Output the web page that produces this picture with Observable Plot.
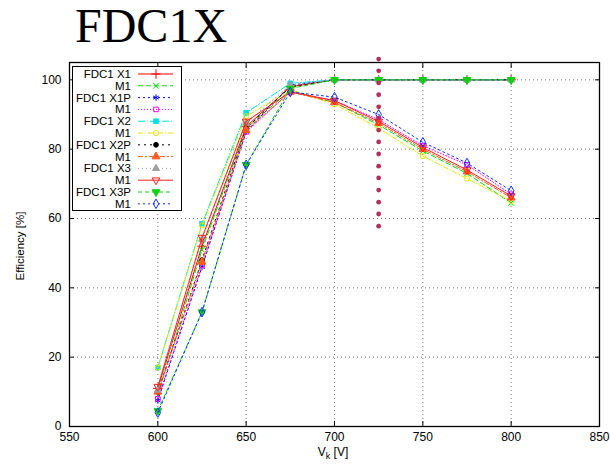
<!DOCTYPE html>
<html><head><meta charset="utf-8">
<script src="https://cdn.jsdelivr.net/npm/d3@7"></script>
<script src="https://cdn.jsdelivr.net/npm/@observablehq/plot@0.6"></script>
<style>
body{margin:0;background:#fff;}
#wrap{position:relative;width:610px;height:465px;overflow:hidden;font-family:"Liberation Sans",Arial,sans-serif;color:#000;}
#title{position:absolute;left:75px;top:2px;font:48px/48px "Liberation Serif","Times New Roman",serif;white-space:nowrap;}
#chart{position:absolute;left:0;top:55px;}
#ylab{position:absolute;left:20px;top:246px;transform:translate(-50%,-50%) rotate(-90deg);font-size:11.5px;white-space:nowrap;}
#xlab{position:absolute;left:333px;top:452px;transform:translate(-50%,-50%);font-size:12px;white-space:nowrap;}
#xlab sub{font-size:9px;vertical-align:-3px;line-height:0;}
#legend{position:absolute;left:72px;top:66px;}
</style>
</head><body>
<div id="wrap">
  <div id="title">FDC1X</div>
  <div id="chart"></div>
  <div id="ylab">Efficiency [%]</div>
  <div id="xlab">V<sub>k</sub> [V]</div>
  <div id="legend"></div>
</div>
<script>
// ---- data ----
const volts = [600, 625, 650, 675, 700, 725, 750, 775, 800];
const fdcX1  = [11, 52, 86.5, 98, 100, 100, 100, 100, 100];
const m1X1   = [9, 51, 86, 97, 93.5, 87, 79.5, 73, 64.5];
const fdcX1P = [7.5, 46, 85, 98.5, 100, 100, 100, 100, 100];
const m1X1P  = [8, 46.5, 85, 96.5, 94, 88.5, 81, 75.5, 67];
const fdcX2  = [17, 58.5, 90.5, 99, 100, 100, 100, 100, 100];
const m1X2   = [17, 58, 89.5, 97, 93, 86, 78, 71.5, 65];
const fdcX2P = [10, 48, 86, 98, 100, 100, 100, 100, 100];
const m1X2P  = [10, 47.5, 85.5, 96.5, 93.5, 87.5, 80, 73.5, 66];
const fdcX3  = [10.5, 54, 87.5, 98.5, 100, 100, 100, 100, 100];
const m1X3   = [11.5, 54.5, 88, 96.5, 94, 88, 80.5, 74, 66.5];
const fdcX3P = [4.5, 33, 75.5, 97.5, 100, 100, 100, 100, 100];
const m1X3P  = [4, 33, 75.5, 96.5, 95, 90, 82, 76, 68];
const seriesNames = ["FDC1 X1","M1","FDC1 X1P","M1","FDC1 X2","M1","FDC1 X2P","M1","FDC1 X3","M1","FDC1 X3P","M1"];
const seriesValues = [fdcX1, m1X1, fdcX1P, m1X1P, fdcX2, m1X2, fdcX2P, m1X2P, fdcX3, m1X3, fdcX3P, m1X3P];
const markerVolt = 725;
const markerLevels = [57.8, 61.3, 64.7, 68.2, 71.7, 75.1, 78.6, 82.1, 85.5, 89, 92.2, 95.7, 99.1, 102.6, 106];
const xTicks = [550, 600, 650, 700, 750, 800, 850];
const yTicks = [0, 20, 40, 60, 80, 100];
const xGrid = [600, 650, 700, 750, 800];
const yGrid = [20, 40, 60, 80, 100];

// ---- styles ----
const colors = ["#ff0000","#00e000","#0000ff","#ff00ff","#00e0e0","#e8e800","#000000","#ff5a1e","#a0a0a0","#ff2020","#10d010","#1030ff"];
const dashes = [null,"5,3","2,3","1,2","7,2,1,2","5,2,1,2","2,4","5,2,2,2","1,3",null,"4,3","2,3"];
const symbols = ["plus","times","asterisk","square","square","circle","circle","triangle","triangle","triangle","triangle","diamond"];
const filled  = [false,false,false,false,true,false,true,true,true,false,true,false];
const rotates = [0,0,0,0,0,0,0,0,0,180,180,0];
const radius  = [3.2,2.7,3,2.6,2.6,2.6,2.4,2.9,2.6,2.9,2.9,2.9];

const rows = seriesValues.flatMap((vals, i) => volts.map((v, j) => ({series: i, v, eff: vals[j]})));
const markerRows = markerLevels.map(y => ({v: markerVolt, eff: y}));

const marks = [
  Plot.gridX(xGrid, {stroke: "#000", strokeOpacity: 0.55, strokeDasharray: "1,3"}),
  Plot.gridY(yGrid, {stroke: "#000", strokeOpacity: 0.55, strokeDasharray: "1,3"}),
  Plot.axisX(xTicks, {tickSize: 0, tickPadding: 6, fontSize: 12, label: null}),
  Plot.axisY(yTicks, {tickSize: 0, tickPadding: 8, fontSize: 12, label: null}),
  Plot.axisX(xTicks, {anchor: "bottom", tickSize: -5, tickFormat: () => "", label: null}),
  Plot.axisX(xTicks, {anchor: "top", tickSize: -5, tickFormat: () => "", label: null}),
  Plot.axisY(yTicks, {anchor: "left", tickSize: -5, tickFormat: () => "", label: null}),
  Plot.axisY(yTicks, {anchor: "right", tickSize: -5, tickFormat: () => "", label: null})
];
seriesValues.forEach((_, i) => {
  const d = rows.filter(r => r.series === i);
  marks.push(Plot.line(d, {x: "v", y: "eff", stroke: colors[i], strokeWidth: 1, strokeDasharray: dashes[i]}));
  marks.push(Plot.dot(d, {x: "v", y: "eff", symbol: symbols[i], r: radius[i], rotate: rotates[i],
    fill: filled[i] ? colors[i] : "none", stroke: colors[i], strokeWidth: 1}));
});
marks.push(Plot.dot(markerRows, {x: "v", y: "eff", r: 2.4, fill: "#b03060", stroke: "none"}));
marks.push(Plot.frame({stroke: "#000", strokeWidth: 1.3}));

const chart = Plot.plot({
  width: 610, height: 410,
  marginLeft: 69, marginRight: 11, marginTop: 7, marginBottom: 39,
  x: {domain: [550, 850], axis: null},
  y: {domain: [0, 105], axis: null},
  style: {fontFamily: "'Liberation Sans', Arial, sans-serif", fontSize: "12px", color: "#000", background: "transparent"},
  marks
});
document.getElementById("chart").appendChild(chart);

// ---- legend (inside plot, top-left) ----
const symMap = {plus: d3.symbolPlus, times: d3.symbolTimes, asterisk: d3.symbolAsterisk, square: d3.symbolSquare,
  circle: d3.symbolCircle, triangle: d3.symbolTriangle, diamond: d3.symbolDiamond};
const lw = 110, lh = 145, rowH = 11.8, row0 = 8;
const svg = d3.select("#legend").append("svg").attr("width", lw).attr("height", lh)
  .style("font-family", "'Liberation Sans', Arial, sans-serif").style("font-size", "11.5px");
svg.append("rect").attr("x", 0.5).attr("y", 0.5).attr("width", lw - 1).attr("height", lh - 1)
  .attr("fill", "#fff").attr("stroke", "#000").attr("stroke-width", 1);
seriesNames.forEach((name, i) => {
  const y = row0 + i * rowH;
  svg.append("text").attr("x", 59).attr("y", y).attr("dy", "0.35em").attr("text-anchor", "end").text(name);
  svg.append("line").attr("x1", 66).attr("x2", 101).attr("y1", y).attr("y2", y)
    .attr("stroke", colors[i]).attr("stroke-width", 1).attr("stroke-dasharray", dashes[i]);
  svg.append("path").attr("d", d3.symbol(symMap[symbols[i]], Math.PI * radius[i] * radius[i])())
    .attr("transform", `translate(84,${y}) rotate(${rotates[i]})`)
    .attr("fill", filled[i] ? colors[i] : "none").attr("stroke", colors[i]).attr("stroke-width", 1);
});
</script>
</body></html>
